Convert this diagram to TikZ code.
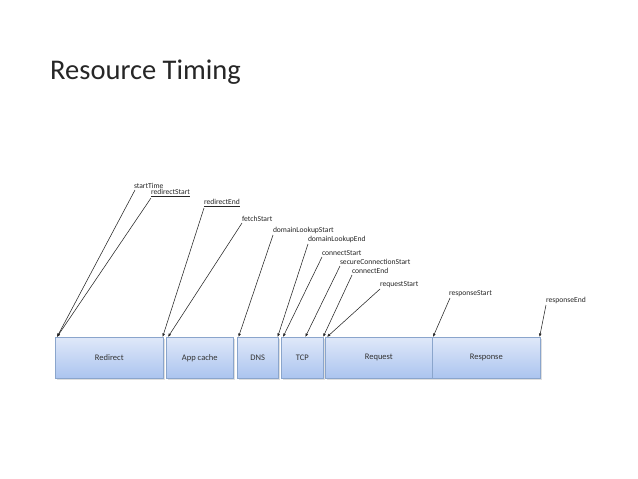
\documentclass[tikz,border=0pt]{standalone}
\usepackage{fontspec}
\setmainfont{Carlito}
\usetikzlibrary{arrows.meta,shadows}
\definecolor{boxtop}{HTML}{DFE8F9}
\definecolor{boxbot}{HTML}{ABC4EF}
\definecolor{boxline}{HTML}{8AA5CC}
\tikzset{
  px/.style={x=1pt,y=-1pt},
  phase/.style={draw=boxline, line width=0.6pt, top color=boxtop, bottom color=boxbot,
    rectangle, anchor=north west, minimum height=41pt, inner sep=0pt,
    font=\fontsize{8.5}{10}\selectfont, text=black!80,
    drop shadow={shadow xshift=1.2pt, shadow yshift=-1.2pt, opacity=0.25}},
  lbl/.style={anchor=south west, inner sep=0.8pt, font=\fontsize{7.6}{9}\selectfont, text=black!85},
  ptr/.style={draw=black!85, line width=0.55pt, -{Latex[length=3.5pt,width=2.8pt]}}
}
\begin{document}
\begin{tikzpicture}[px]
\useasboundingbox (0,0) rectangle (638,479);
\fill[white] (0,0) rectangle (638,479);
\node[anchor=base west, inner sep=0pt, font=\fontsize{28.5}{32}\selectfont, text=black!85] (title) at (50,79) {Resource Timing};
% phases
\node[phase, minimum width=108pt] (redirect) at (55,337) {Redirect};
\node[phase, minimum width=67pt] (appcache) at (166,337) {App cache};
\node[phase, minimum width=41pt] (dns) at (237,337) {DNS};
\node[phase, minimum width=42pt] (tcp) at (281,337) {TCP};
\node[phase, minimum width=107pt] (request) at (325,337) {Request};
\node[phase, minimum width=108pt] (response) at (432,337) {Response};
% labels
\node[lbl] (startTime) at (133,190) {startTime};
\node[lbl] (redirectStart) at (150,198) {\underline{redirectStart}};
\node[lbl] (redirectEnd) at (203,208) {\underline{redirectEnd}};
\node[lbl] (fetchStart) at (241,223) {fetchStart};
\node[lbl] (dlStart) at (272,235) {domainLookupStart};
\node[lbl] (dlEnd) at (307,244) {domainLookupEnd};
\node[lbl] (connectStart) at (321,257) {connectStart};
\node[lbl] (secure) at (339,266) {secureConnectionStart};
\node[lbl] (connectEnd) at (351,275) {connectEnd};
\node[lbl] (requestStart) at (379,289) {requestStart};
\node[lbl] (responseStart) at (448,298) {responseStart};
\node[lbl] (responseEnd) at (545,305) {responseEnd};
% pointers
\draw[ptr] ([xshift=2pt]startTime.south west) -- ([xshift=2pt]redirect.north west);
\draw[ptr] ([xshift=1pt]redirectStart.south west) -- ([xshift=2pt]redirect.north west);
\draw[ptr] ([xshift=1pt]redirectEnd.south west) -- ([xshift=-1pt]redirect.north east);
\draw[ptr] ([xshift=1pt]fetchStart.south west) -- ([xshift=2pt]appcache.north west);
\draw[ptr] ([xshift=1pt]dlStart.south west) -- ([xshift=1.5pt]dns.north west);
\draw[ptr] ([xshift=1pt]dlEnd.south west) -- ([xshift=-1pt]dns.north east);
\draw[ptr] ([xshift=1pt]connectStart.south west) -- ([xshift=2pt]tcp.north west);
\draw[ptr] ([xshift=1pt]secure.south west) -- ([xshift=3pt]tcp.north);
\draw[ptr] ([xshift=1pt]connectEnd.south west) -- ([xshift=-0.5pt]tcp.north east);
\draw[ptr] ([xshift=1pt]requestStart.south west) -- ([xshift=2pt]request.north west);
\draw[ptr] ([xshift=2pt]responseStart.south west) -- ([xshift=1pt]response.north west);
\draw[ptr] ([xshift=1pt]responseEnd.south west) -- ([xshift=-1pt]response.north east);
\end{tikzpicture}
\end{document}
